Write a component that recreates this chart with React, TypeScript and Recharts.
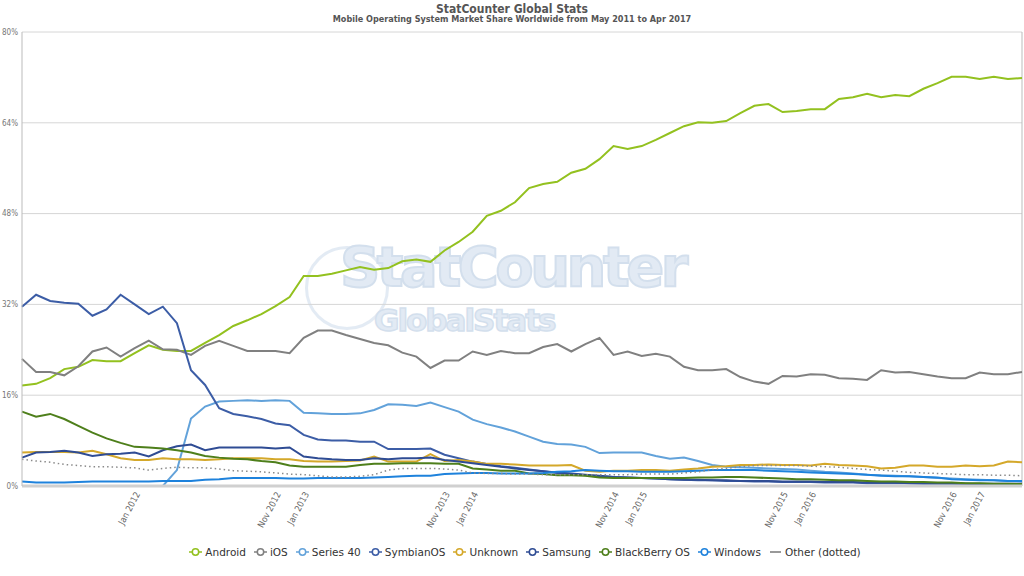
import { LineChart, Line, CartesianGrid, XAxis, YAxis, Legend, ReferenceLine } from "recharts";

// May 2011 .. Apr 2017, one entry per month
const monthNames = ["Jan", "Feb", "Mar", "Apr", "May", "Jun", "Jul", "Aug", "Sep", "Oct", "Nov", "Dec"];
const months: string[] = [];
for (let k = 4; k < 4 + 72; k++) {
  months.push(`${monthNames[k % 12]} ${2011 + Math.floor(k / 12)}`);
}

const tickMonths = [
  "Jan 2012", "Nov 2012", "Jan 2013", "Nov 2013", "Jan 2014", "Nov 2014",
  "Jan 2015", "Nov 2015", "Jan 2016", "Nov 2016", "Jan 2017",
];
const yTicks = [0, 16, 32, 48, 64, 80];

const android = [
  17.7, 18.0, 19.0, 20.6, 21.0, 22.2, 22.0, 22.0, 23.4, 24.8,
  24.0, 23.8, 23.8, 25.2, 26.6, 28.2, 29.2, 30.3, 31.7, 33.3,
  37.0, 37.0, 37.4, 38.0, 38.6, 38.1, 38.4, 39.6, 39.9, 39.5,
  41.5, 43.0, 44.8, 47.6, 48.5, 50.0, 52.5, 53.2, 53.6, 55.2,
  55.9, 57.6, 59.9, 59.4, 59.9, 61.0, 62.2, 63.4, 64.1, 64.0,
  64.3, 65.7, 67.0, 67.3, 65.9, 66.1, 66.4, 66.4, 68.2, 68.5,
  69.1, 68.5, 68.9, 68.7, 70.0, 71.0, 72.1, 72.1, 71.7, 72.1,
  71.7, 71.9,
];
const ios = [
  22.4, 20.1, 20.1, 19.5, 21.1, 23.7, 24.4, 22.8, 24.3, 25.6,
  24.1, 24.0, 23.1, 24.7, 25.6, 24.7, 23.8, 23.8, 23.8, 23.4,
  26.1, 27.4, 27.4, 26.6, 25.9, 25.2, 24.8, 23.5, 22.8, 20.8,
  22.1, 22.1, 23.7, 23.1, 23.8, 23.4, 23.4, 24.5, 25.0, 23.7,
  25.0, 26.1, 23.1, 23.7, 22.9, 23.3, 22.8, 21.0, 20.4, 20.4,
  20.6, 19.2, 18.4, 18.0, 19.4, 19.3, 19.7, 19.6, 19.0, 18.9,
  18.7, 20.4, 20.0, 20.1, 19.7, 19.3, 19.0, 19.0, 20.0, 19.7,
  19.7, 20.1,
];
const series40 = [
  0, 0, 0, 0, 0, 0, 0, 0, 0, 0,
  0, 2.8, 11.9, 14.0, 14.9, 15.0, 15.1, 15.0, 15.1, 15.0,
  12.9, 12.8, 12.7, 12.7, 12.8, 13.4, 14.4, 14.3, 14.1, 14.7,
  13.9, 13.1, 11.7, 10.9, 10.3, 9.6, 8.7, 7.8, 7.4, 7.3,
  6.9, 5.8, 5.9, 5.9, 5.9, 5.3, 4.8, 5.0, 4.4, 3.7,
  3.4, 3.3, 3.2, 3.1, 3.0, 2.9, 2.7, 2.5, 2.4, 2.2,
  2.0, 1.9, 1.8, 1.7, 1.6, 1.4, 1.3, 1.2, 1.1, 1.0,
  0.9, 0.8,
];
const symbian = [
  31.6, 33.7, 32.6, 32.3, 32.1, 30.0, 31.1, 33.7, 32.0, 30.3,
  31.6, 28.7, 20.4, 17.8, 13.7, 12.7, 12.3, 11.8, 11.0, 10.7,
  9.0, 8.2, 8.0, 8.0, 7.8, 7.8, 6.5, 6.5, 6.5, 6.6,
  5.5, 4.9, 4.3, 3.9, 3.5, 3.2, 2.9, 2.6, 2.3, 2.1,
  1.9, 1.7, 1.6, 1.5, 1.4, 1.3, 1.2, 1.1, 1.0, 1.0,
  0.9, 0.9, 0.8, 0.8, 0.7, 0.7, 0.7, 0.6, 0.6, 0.6,
  0.5, 0.5, 0.5, 0.5, 0.4, 0.4, 0.4, 0.4, 0.3, 0.3,
  0.3, 0.3,
];
const unknown = [
  5.9, 6.0, 6.0, 6.0, 5.9, 6.2, 5.6, 4.9, 4.6, 4.6,
  4.9, 4.7, 4.7, 4.6, 4.7, 4.9, 4.9, 4.9, 4.7, 4.7,
  4.4, 4.3, 4.3, 4.4, 4.5, 5.2, 4.3, 4.3, 4.3, 5.6,
  4.4, 4.6, 4.3, 3.9, 3.9, 3.8, 3.6, 3.6, 3.6, 3.7,
  2.7, 2.5, 2.7, 2.7, 2.8, 2.8, 2.7, 2.9, 3.1, 3.4,
  3.5, 3.7, 3.7, 3.8, 3.7, 3.7, 3.6, 3.9, 3.7, 3.6,
  3.5, 3.1, 3.2, 3.6, 3.6, 3.4, 3.4, 3.6, 3.5, 3.6,
  4.3, 4.2,
];
const samsung = [
  5.0, 5.9, 6.0, 6.2, 5.9, 5.3, 5.6, 5.7, 5.9, 5.2,
  6.3, 7.0, 7.3, 6.3, 6.8, 6.8, 6.8, 6.8, 6.6, 6.8,
  5.2, 4.9, 4.7, 4.6, 4.6, 4.9, 4.7, 4.9, 4.9, 5.0,
  4.6, 4.3, 4.0, 3.7, 3.4, 3.1, 2.8, 2.6, 2.4, 2.2,
  2.0, 1.8, 1.6, 1.5, 1.4, 1.3, 1.2, 1.1, 1.1, 1.0,
  1.0, 0.9, 0.9, 0.9, 0.8, 0.8, 0.8, 0.7, 0.7, 0.7,
  0.6, 0.6, 0.6, 0.5, 0.5, 0.5, 0.5, 0.4, 0.4, 0.4,
  0.4, 0.4,
];
const blackberry = [
  13.1, 12.2, 12.7, 11.8, 10.6, 9.4, 8.4, 7.6, 6.9, 6.8,
  6.6, 6.3, 5.9, 5.3, 5.0, 4.8, 4.7, 4.4, 4.2, 3.6,
  3.4, 3.4, 3.4, 3.4, 3.7, 3.9, 3.9, 4.0, 4.0, 4.0,
  3.9, 3.9, 3.1, 2.9, 2.7, 2.7, 2.2, 2.1, 1.9, 1.9,
  1.8, 1.5, 1.4, 1.4, 1.4, 1.4, 1.4, 1.4, 1.5, 1.5,
  1.6, 1.6, 1.5, 1.4, 1.3, 1.2, 1.2, 1.1, 1.0, 1.0,
  0.9, 0.8, 0.8, 0.7, 0.7, 0.6, 0.6, 0.5, 0.5, 0.4,
  0.4, 0.35,
];
const windows = [
  0.8, 0.6, 0.6, 0.6, 0.7, 0.8, 0.8, 0.8, 0.8, 0.8,
  0.9, 0.9, 0.9, 1.1, 1.2, 1.4, 1.4, 1.4, 1.4, 1.3,
  1.3, 1.4, 1.4, 1.4, 1.4, 1.5, 1.6, 1.7, 1.8, 1.8,
  2.1, 2.2, 2.3, 2.3, 2.2, 2.2, 2.2, 2.3, 2.5, 2.6,
  2.8, 2.7, 2.6, 2.6, 2.5, 2.5, 2.5, 2.6, 2.7, 2.8,
  2.8, 2.8, 2.8, 2.7, 2.6, 2.5, 2.4, 2.3, 2.2, 2.1,
  2.0, 1.8, 1.7, 1.7, 1.6, 1.5, 1.2, 1.1, 1.0, 1.0,
  0.9, 0.9,
];
const other = [
  4.7, 4.4, 4.2, 3.8, 3.6, 3.4, 3.4, 3.3, 3.2, 2.8,
  3.1, 3.3, 3.2, 3.2, 3.0, 2.7, 2.6, 2.5, 2.3, 2.1,
  2.0, 1.8, 1.6, 1.6, 1.7, 2.0, 2.8, 3.1, 3.1, 3.1,
  3.0, 2.8, 2.3, 2.2, 2.2, 2.1, 2.1, 2.0, 2.0, 2.0,
  2.0, 2.0, 2.0, 2.0, 2.1, 2.1, 2.1, 2.3, 2.5, 2.9,
  3.1, 3.4, 3.6, 3.6, 3.6, 3.6, 3.5, 3.4, 3.3, 3.1,
  2.9, 2.8, 2.6, 2.4, 2.3, 2.2, 2.1, 2.0, 2.0, 1.9,
  1.9, 1.8,
];

const data = months.map((month, i) => ({
  month,
  android: android[i],
  ios: ios[i],
  series40: series40[i],
  symbian: symbian[i],
  unknown: unknown[i],
  samsung: samsung[i],
  blackberry: blackberry[i],
  windows: windows[i],
  other: other[i],
}));

const lines = [
  { key: "android", name: "Android", color: "#93c11f" },
  { key: "ios", name: "iOS", color: "#808080" },
  { key: "series40", name: "Series 40", color: "#62a2da" },
  { key: "symbian", name: "SymbianOS", color: "#3c5da6" },
  { key: "unknown", name: "Unknown", color: "#d4a82a" },
  { key: "samsung", name: "Samsung", color: "#2f4c94" },
  { key: "blackberry", name: "BlackBerry OS", color: "#4e7f1b" },
  { key: "windows", name: "Windows", color: "#1e82dc" },
];
const otherName = "Other (dotted)";
const legendOrder = [...lines.map((l) => l.name), otherName];

const font = "'DejaVu Sans Condensed', 'Liberation Sans Narrow', 'DejaVu Sans', sans-serif";

// legend like the original: small line+ring icons, plain dash for "Other"
const renderLegend = (props: any) => {
  const items = [...(props.payload || [])].sort(
    (a: any, b: any) => legendOrder.indexOf(a.value) - legendOrder.indexOf(b.value)
  );
  return (
    <div style={{ textAlign: "center", fontSize: 10.5, color: "#333" }}>
      {items.map((it: any) => (
        <span key={it.value} style={{ display: "inline-block", marginRight: 8, whiteSpace: "nowrap" }}>
          <svg width={13} height={10} style={{ verticalAlign: "middle", marginRight: 3 }}>
            {it.value === otherName ? (
              <line x1={1} y1={5} x2={12} y2={5} stroke="#999" strokeWidth={2} />
            ) : (
              <>
                <line x1={0} y1={5} x2={13} y2={5} stroke={it.color} strokeWidth={1.5} />
                <circle cx={6.5} cy={5} r={3.2} fill="#fff" stroke={it.color} strokeWidth={1.5} />
              </>
            )}
          </svg>
          <span style={{ verticalAlign: "middle" }}>{it.value}</span>
        </span>
      ))}
    </div>
  );
};

export default function App() {
  return (
    <div style={{ position: "absolute", left: 0, top: 0, width: 1024, height: 576, fontFamily: "'DejaVu Sans', sans-serif", background: "#fff" }}>
      <div style={{ position: "absolute", top: 2, width: 1024, textAlign: "center", fontFamily: font, fontWeight: "bold", color: "#555", fontSize: 12 }}>
        StatCounter Global Stats
      </div>
      <div style={{ position: "absolute", top: 14, width: 1024, textAlign: "center", fontFamily: font, fontWeight: "bold", color: "#555", fontSize: 9 }}>
        Mobile Operating System Market Share Worldwide from May 2011 to Apr 2017
      </div>
      {/* faint watermark behind the plot */}
      <div style={{ position: "absolute", left: 300, top: 240, width: 400, height: 100, opacity: 0.5 }}>
        <div style={{ position: "absolute", left: 5, top: 6, width: 84, height: 84, borderRadius: "50%", border: "3px solid #c9d8ea", boxSizing: "border-box" }} />
        <div style={{ position: "absolute", left: 40, top: 0, fontSize: 56, fontWeight: "bold", letterSpacing: -3.5, color: "#c6d7ea", WebkitTextStroke: "2px #a9c1dc", lineHeight: "54px" }}>
          StatCounter
        </div>
        <div style={{ position: "absolute", left: 74, top: 64, fontSize: 31, fontWeight: "bold", letterSpacing: -2, color: "#c6d7ea", WebkitTextStroke: "1.5px #a9c1dc", lineHeight: "32px" }}>
          GlobalStats
        </div>
      </div>
      <div style={{ position: "absolute", left: 0, top: 0 }}>
        <LineChart width={1024} height={576} data={data} margin={{ top: 32, right: 2, left: 0, bottom: 5 }}>
          <CartesianGrid vertical={false} stroke="#d6d6d6" />
          <XAxis
            dataKey="month"
            ticks={tickMonths}
            interval={0}
            angle={-62}
            textAnchor="end"
            height={55}
            tickLine={false}
            tickSize={3}
            axisLine={{ stroke: "#d0d0d0", strokeWidth: 3 }}
            tick={{ fontSize: 9, fill: "#666", fontFamily: font }}
          />
          <YAxis
            domain={[0, 80]}
            ticks={yTicks}
            width={22}
            tickLine={false}
            tickSize={2}
            axisLine={{ stroke: "#bbb" }}
            tickFormatter={(v) => `${v}%`}
            tick={{ fontSize: 8, fill: "#777", fontFamily: font }}
          />
          <ReferenceLine x="Apr 2017" stroke="#bbb" />
          {lines.map((l) => (
            <Line
              key={l.key}
              type="linear"
              dataKey={l.key}
              name={l.name}
              stroke={l.color}
              strokeWidth={2}
              dot={false}
              isAnimationActive={false}
            />
          ))}
          <Line
            type="linear"
            dataKey="other"
            name={otherName}
            stroke="#8a8a8a"
            strokeWidth={1.5}
            strokeDasharray="1.5 3"
            dot={false}
            isAnimationActive={false}
          />
          <Legend height={30} wrapperStyle={{ top: 545, left: 18 }} content={renderLegend} />
        </LineChart>
      </div>
    </div>
  );
}
